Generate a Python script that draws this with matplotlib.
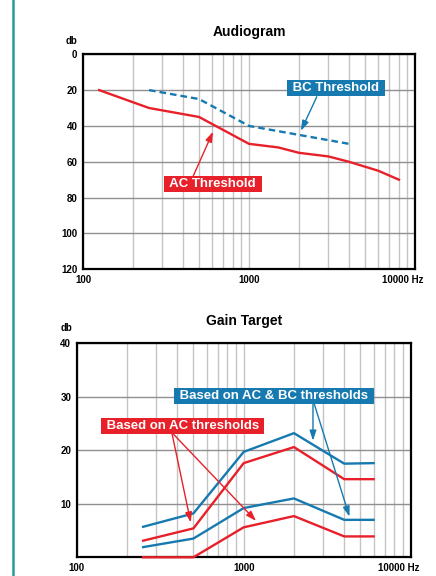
import numpy as np
import matplotlib
matplotlib.use("Agg")
import matplotlib.pyplot as plt
import matplotlib.transforms as mtransforms
from matplotlib.lines import Line2D
from matplotlib.ticker import LogLocator, NullFormatter

plt.rcParams["font.family"] = "Liberation Sans"

RED = "#e8202a"
BLUE = "#1679b0"

# audiogram thresholds (Hz, dB)
ac_freq = [125, 250, 500, 1000, 1500, 2000, 3000, 4000, 6000, 8000]
ac_db = [20, 30, 35, 50, 52, 55, 57, 60, 65, 70]
bc_freq = [250, 500, 1000, 2000, 4000]
bc_db = [20, 25, 40, 45, 50]

# gain targets (Hz, dB)
gain_freq = [250, 500, 1000, 2000, 4000, 6000]
gain_acbc_high = [5.7, 8.2, 19.7, 23.2, 17.5, 17.6]
gain_ac_high = [3.1, 5.4, 17.6, 20.6, 14.6, 14.6]
gain_acbc_low = [1.9, 3.5, 9.2, 11.0, 7.0, 7.0]
gain_ac_low = [0.0, 0.0, 5.6, 7.7, 3.9, 3.9]

x_ticks = [100, 1000, 10000]
x_ticklabels = ["100", "1000", "10000 Hz"]
audio_yticks = [0, 20, 40, 60, 80, 100, 120]
gain_yticks = [0, 10, 20, 30, 40]
gain_yticklabels = ["", "10", "20", "30", "40"]

fig = plt.figure(figsize=(4.36, 5.76), dpi=100)

# teal rule down the left side of the page
fig.add_artist(Line2D([0.0305, 0.0305], [0, 1], color="#2b9a9c", lw=1.8))


def setup_panel(ax, title, db_offset):
    ax.set_xscale("log")
    ax.set_xlim(100, 10000)
    ax.set_xticks(x_ticks)
    ax.set_xticklabels(x_ticklabels)
    ax.xaxis.set_minor_locator(LogLocator(base=10, subs=np.arange(2, 10)))
    ax.xaxis.set_minor_formatter(NullFormatter())
    ax.grid(True, which="both", axis="x", color="#c4c4c4", lw=1.0)
    ax.grid(True, which="major", axis="y", color="#8f8f8f", lw=1.0)
    ax.set_axisbelow(True)
    ax.tick_params(which="both", length=0, labelsize=7, pad=4)
    for lab in ax.get_xticklabels() + ax.get_yticklabels():
        lab.set_fontweight("bold")
    last = ax.get_xticklabels()[-1]
    last.set_ha("right")
    last.set_transform(last.get_transform()
                       + mtransforms.ScaledTranslation(6 / 72, 0, fig.dpi_scale_trans))
    for s in ax.spines.values():
        s.set_linewidth(1.6)
    ax.set_title(title, fontsize=10, fontweight="bold", pad=13)
    ax.annotate("db", xy=(0, 1), xycoords="axes fraction", xytext=db_offset,
                textcoords="offset pixels", ha="center", va="center",
                fontsize=7, fontweight="bold")


def label_box(ax, x, y, text, color):
    ax.text(x, y, " " + text + " ", color="white", fontsize=9.5, fontweight="bold",
            ha="center", va="center", zorder=6,
            bbox=dict(boxstyle="square,pad=0.15", fc=color, ec="none"))


def arrow(ax, start, tip, color):
    ax.annotate("", xy=tip, xytext=start, zorder=5,
                arrowprops=dict(arrowstyle="-|>,head_length=0.6,head_width=0.2",
                                color=color, lw=1.0, mutation_scale=10,
                                shrinkA=0, shrinkB=0))


# Audiogram
ax1 = fig.add_axes([0.1904, 0.5325, 0.7615, 0.3733])
ax1.set_yticks(audio_yticks)
ax1.set_ylim(120, 0)
setup_panel(ax1, "Audiogram", (-12, 13))
ax1.plot(ac_freq, ac_db, color=RED, lw=1.7, zorder=3)
ax1.plot(bc_freq, bc_db, color=BLUE, lw=1.7, dashes=(2.8, 1.7), zorder=3)
label_box(ax1, 3340, 18.8, "BC Threshold", BLUE)
arrow(ax1, (2560, 23.7), (2055, 42.7), BLUE)
label_box(ax1, 607, 72.6, "AC Threshold", RED)
arrow(ax1, (461, 68), (607, 43.2), RED)

# Gain target
ax2 = fig.add_axes([0.1759, 0.0325, 0.766, 0.3715])
ax2.set_yticks(gain_yticks)
ax2.set_yticklabels(gain_yticklabels)
ax2.set_ylim(0, 40)
setup_panel(ax2, "Gain Target", (-10, 15))
ax2.plot(gain_freq, gain_acbc_high, color=BLUE, lw=1.7, zorder=3)
ax2.plot(gain_freq, gain_ac_high, color=RED, lw=1.7, zorder=3)
ax2.plot(gain_freq, gain_acbc_low, color=BLUE, lw=1.7, zorder=3)
ax2.plot(gain_freq, gain_ac_low, color=RED, lw=1.7, zorder=3, clip_on=False)
label_box(ax2, 1517, 30.2, "Based on AC & BC thresholds", BLUE)
arrow(ax2, (2600, 28.6), (2600, 21.8), BLUE)
arrow(ax2, (2650, 28.6), (4300, 7.6), BLUE)
label_box(ax2, 431, 24.6, "Based on AC thresholds", RED)
arrow(ax2, (373, 23.0), (482, 6.5), RED)
arrow(ax2, (380, 23.0), (1186, 6.8), RED)

fig.savefig("out.png", dpi=100)
